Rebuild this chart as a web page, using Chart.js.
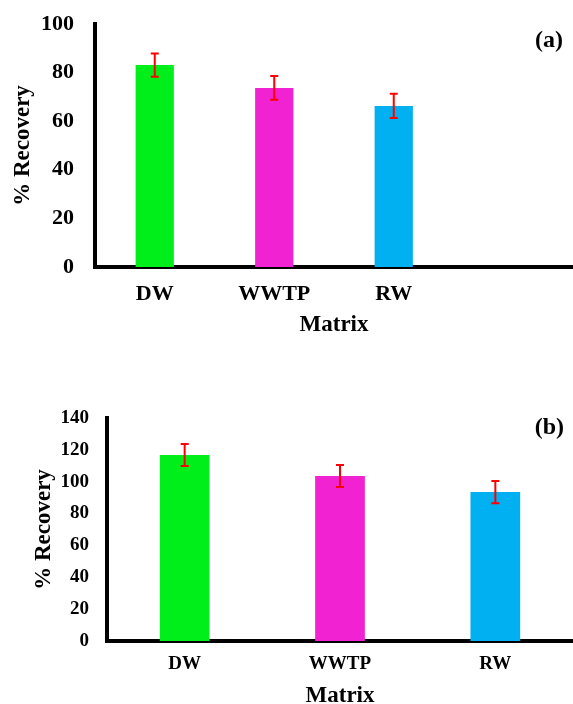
<!DOCTYPE html>
<html>
<head>
<meta charset="utf-8">
<script src="https://cdn.jsdelivr.net/npm/chart.js@4"></script>
<style>
  html, body { margin: 0; padding: 0; background: #fff; overflow: hidden; }
  .box { position: absolute; left: 0; width: 573px; }
  #boxA { top: 0; height: 345px; }
  #boxB { top: 380px; height: 330px; }
</style>
</head>
<body>
<div class="box" id="boxA"><canvas id="chartA"></canvas></div>
<div class="box" id="boxB"><canvas id="chartB"></canvas></div>
<script>
// panel (a)
const matricesA = ["DW", "WWTP", "RW", ""];
const recoveryA = [83.1, 73.7, 66.3, null];
const errorA = [4.8, 4.9, 5.0, null];
// panel (b)
const matricesB = ["DW", "WWTP", "RW"];
const recoveryB = [116.8, 103.6, 93.5];
const errorB = [6.9, 6.9, 7.0];

const COLORS = ["#00ef1b", "#f022d2", "#00b0f0"];
const FONT = "'Liberation Serif', 'Times New Roman', serif";

// red error bars drawn from the err array of each dataset
const errorBars = {
  id: "errorBars",
  afterDatasetsDraw(chart) {
    const { ctx, scales: { y } } = chart;
    chart.data.datasets.forEach((ds, di) => {
      const meta = chart.getDatasetMeta(di);
      meta.data.forEach((bar, i) => {
        const v = ds.data[i], e = ds.err[i];
        if (v == null || e == null) return;
        const x = bar.x;
        const top = y.getPixelForValue(v + e), bot = y.getPixelForValue(v - e);
        ctx.save();
        ctx.strokeStyle = "#ff0000";
        ctx.lineWidth = 2;
        ctx.beginPath();
        ctx.moveTo(x, top); ctx.lineTo(x, bot);
        ctx.moveTo(x - 4, top); ctx.lineTo(x + 4, top);
        ctx.moveTo(x - 4, bot); ctx.lineTo(x + 4, bot);
        ctx.stroke();
        ctx.restore();
      });
    });
  },
};

const panelLabel = {
  id: "panelLabel",
  afterDraw(chart, args, opts) {
    const { ctx } = chart;
    ctx.save();
    ctx.font = "bold 24px " + FONT;
    ctx.fillStyle = "#000";
    ctx.textAlign = "right";
    ctx.textBaseline = "middle";
    ctx.fillText(opts.text, opts.x, opts.y);
    ctx.restore();
  },
};

function makeChart(id, labels, values, errs, o) {
  return new Chart(document.getElementById(id), {
    type: "bar",
    data: {
      labels,
      datasets: [{
        data: values,
        err: errs,
        backgroundColor: COLORS,
        barPercentage: 0.32,
        categoryPercentage: 1,
      }],
    },
    plugins: [errorBars, panelLabel],
    options: {
      responsive: true,
      maintainAspectRatio: false,
      animation: false,
      layout: { padding: { top: o.top, left: 0, right: 0, bottom: 0 } },
      plugins: {
        legend: { display: false },
        tooltip: { enabled: false },
        panelLabel: { text: o.tag, x: o.tagX, y: o.tagY },
      },
      scales: {
        x: {
          z: 1,
          grid: { display: false, drawTicks: false },
          border: { display: true, color: "#000", width: 4 },
          ticks: { color: "#000", padding: o.xPad, font: { family: FONT, size: o.tickSize, weight: "bold" } },
          title: { display: true, text: "Matrix", color: "#000", padding: { top: 0, bottom: o.titleBottom },
                   font: { family: FONT, size: 23, weight: "bold" } },
          afterFit: (s) => { s.height = o.xHeight; },
        },
        y: {
          z: 1,
          min: 0, max: o.max,
          grid: { display: false, drawTicks: false },
          border: { display: true, color: "#000", width: 4 },
          ticks: { stepSize: 20, color: "#000", padding: o.yPad, font: { family: FONT, size: o.tickSize, weight: "bold" } },
          title: { display: true, text: "% Recovery", color: "#000", padding: { top: o.yTitlePad, bottom: 0 },
                   font: { family: FONT, size: 23, weight: "bold" } },
          afterFit: (s) => { s.width = o.yWidth; s.paddingTop = 0; s.paddingBottom = 0; },
        },
      },
    },
  });
}

makeChart("chartA", matricesA, recoveryA, errorA, {
  top: 24, max: 100, tickSize: 22, xPad: 14, yPad: 21, xHeight: 78, yWidth: 95,
  titleBottom: 6, yTitlePad: 9, tag: "(a)", tagX: 563, tagY: 41,
});
makeChart("chartB", matricesB, recoveryB, errorB, {
  top: 38, max: 140, tickSize: 19, xPad: 12, yPad: 18, xHeight: 69, yWidth: 107,
  titleBottom: 0, yTitlePad: 30, tag: "(b)", tagX: 564, tagY: 48,
});
</script>
</body>
</html>
